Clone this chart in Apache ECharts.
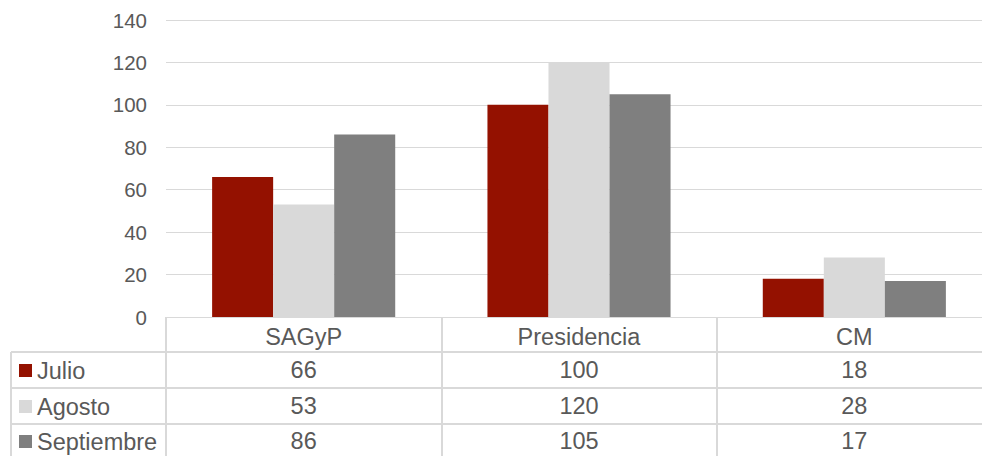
<!DOCTYPE html>
<html>
<head>
<meta charset="utf-8">
<script src="https://cdn.jsdelivr.net/npm/echarts@6/dist/echarts.min.js"></script>
<style>
html,body{margin:0;padding:0;background:#fff;}
#main{width:982px;height:456px;}
</style>
</head>
<body>
<div id="main"></div>
<script>
var categories = ['SAGyP', 'Presidencia', 'CM'];
var seriesNames = ['Julio', 'Agosto', 'Septiembre'];
var julio = [66, 100, 18];
var agosto = [53, 120, 28];
var septiembre = [86, 105, 17];
var yTicks = [0, 20, 40, 60, 80, 100, 120, 140];

var colors = ['#941100', '#d9d9d9', '#7f7f7f'];
var values = [julio, agosto, septiembre];
var textColor = '#595959';
var lineColor = '#d9d9d9';
var FONT = '"Liberation Sans", Arial, sans-serif';
var FS = 23.5;    // table text
var FS_Y = 20.5;  // value axis labels

var gridLeft = 166, gridTop = 20, gridBottomY = 317, gridWidth = 826;
var headerCenter = 337;
var rowTops = [352, 388, 424];
var rowCenters = [370, 406, 441];
var labelMargin = 8;

var chart = echarts.init(document.getElementById('main'), null, {renderer: 'svg'});

var xAxes = [{
  type: 'category',
  data: categories,
  gridIndex: 0,
  position: 'bottom',
  axisLine: {show: true, lineStyle: {color: lineColor, width: 1}},
  axisTick: {show: true, length: 139, lineStyle: {color: lineColor, width: 2}},
  axisLabel: {color: textColor, fontSize: FS, fontFamily: FONT, margin: headerCenter - gridBottomY - FS / 2}
}];
values.forEach(function (v, i) {
  xAxes.push({
    type: 'category',
    data: v.map(String),
    gridIndex: 0,
    position: 'bottom',
    offset: rowCenters[i] - gridBottomY - labelMargin - FS / 2,
    axisLine: {show: false},
    axisTick: {show: false},
    axisLabel: {color: textColor, fontSize: FS, fontFamily: FONT, margin: labelMargin}
  });
});

var graphics = [];
rowTops.forEach(function (y) {
  graphics.push({type: 'line', shape: {x1: 11, y1: y, x2: 982, y2: y}, style: {stroke: lineColor, lineWidth: 2}, silent: true});
});
graphics.push({type: 'line', shape: {x1: 11, y1: rowTops[0], x2: 11, y2: 456}, style: {stroke: lineColor, lineWidth: 2}, silent: true});
seriesNames.forEach(function (name, i) {
  graphics.push({type: 'rect', shape: {x: 19, y: rowCenters[i] - 6, width: 13, height: 13}, style: {fill: colors[i]}, silent: true});
  graphics.push({type: 'text', x: 37, y: rowCenters[i] + 1, style: {text: name, fill: textColor, fontSize: FS, fontFamily: FONT, verticalAlign: 'middle', align: 'left'}, silent: true});
});

var option = {
  animation: false,
  backgroundColor: '#ffffff',
  grid: {left: gridLeft, width: gridWidth, top: gridTop, bottom: 456 - gridBottomY, containLabel: false, outerBoundsMode: 'none'},
  xAxis: xAxes,
  yAxis: {
    type: 'value',
    min: yTicks[0],
    max: yTicks[yTicks.length - 1],
    interval: yTicks[1] - yTicks[0],
    axisLine: {show: false},
    axisTick: {show: false},
    axisLabel: {color: textColor, fontSize: FS_Y, fontFamily: FONT, margin: 19},
    splitLine: {show: true, lineStyle: {color: lineColor, width: 1}}
  },
  graphic: graphics,
  series: seriesNames.map(function (name, i) {
    return {
      name: name,
      type: 'bar',
      xAxisIndex: 0,
      data: values[i],
      itemStyle: {color: colors[i]},
      barGap: '0%',
      barCategoryGap: '33.5%'
    };
  })
};
chart.setOption(option);
</script>
</body>
</html>
